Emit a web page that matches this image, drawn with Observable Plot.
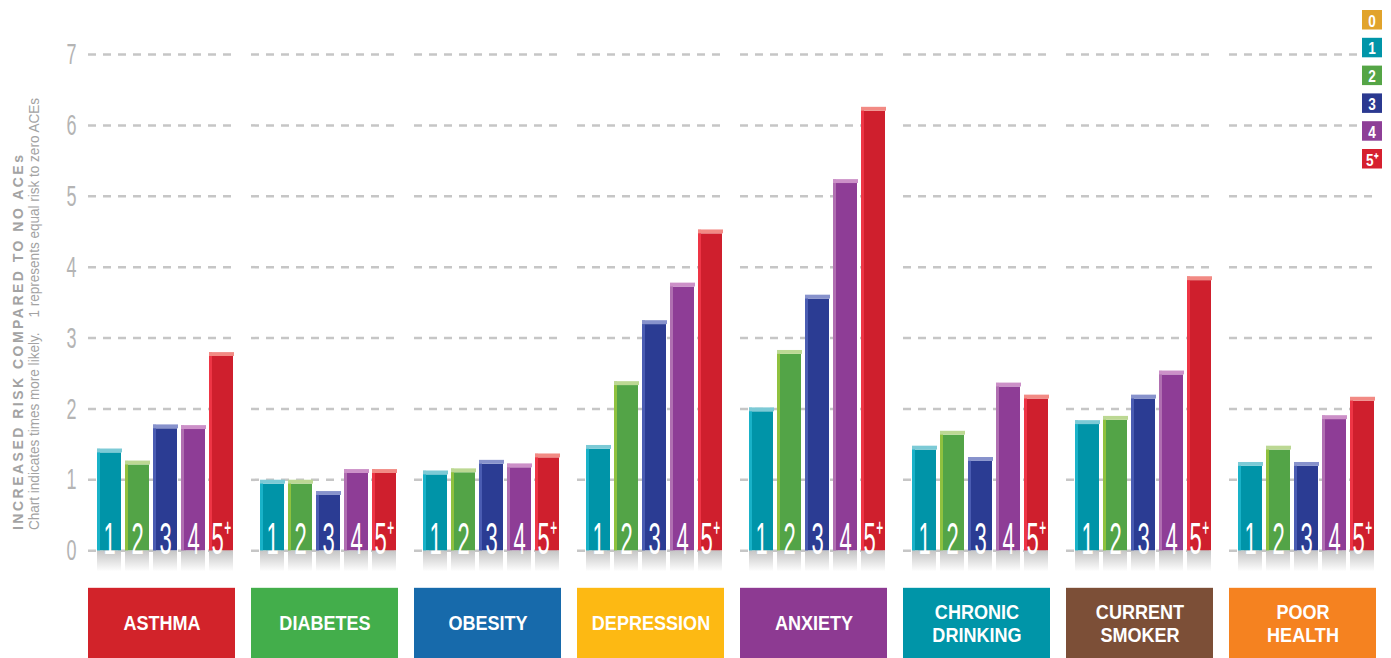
<!DOCTYPE html>
<html>
<head>
<meta charset="utf-8">
<script src="https://cdn.jsdelivr.net/npm/d3@7"></script>
<script src="https://cdn.jsdelivr.net/npm/@observablehq/plot@0.6"></script>
<style>
  html, body { margin: 0; padding: 0; background: #fff; overflow: hidden; }
  #chart svg { display: block; }
</style>
</head>
<body>
<div id="chart"></div>
<script>
// ---- data ----
const categories = ["ASTHMA", "DIABETES", "OBESITY", "DEPRESSION", "ANXIETY", "CHRONIC DRINKING", "CURRENT SMOKER", "POOR HEALTH"];
const categoryLabels = ["ASTHMA", "DIABETES", "OBESITY", "DEPRESSION", "ANXIETY", "CHRONIC\nDRINKING", "CURRENT\nSMOKER", "POOR\nHEALTH"];
const categoryColors = ["#d2232a", "#43ae4b", "#176aab", "#fdb913", "#8d3a92", "#0095a8", "#7c4f37", "#f58220"];

const aceGroups = ["1", "2", "3", "4", "5+"];
const aceLabels = ["1", "2", "3", "4", "5⁺"];
const ace1 = [1.38, 0.94, 1.07, 1.43, 1.96, 1.42, 1.78, 1.19];
const ace2 = [1.21, 0.94, 1.10, 2.33, 2.77, 1.63, 1.84, 1.42];
const ace3 = [1.72, 0.78, 1.22, 3.19, 3.55, 1.26, 2.14, 1.19];
const ace4 = [1.71, 1.09, 1.17, 3.72, 5.18, 2.31, 2.48, 1.85];
const ace5 = [2.74, 1.09, 1.31, 4.47, 6.20, 2.14, 3.81, 2.11];

const aceColors = ["#0094a8", "#53a447", "#2b3c93", "#8e3d96", "#cf1f2d"];
const aceTopColors = ["#7ccad6", "#bcd893", "#8792cc", "#cc90c8", "#f28a84"];
const aceSideColors = ["#19b2c8", "#8fc13f", "#4a5cb2", "#b06fb1", "#ee3545"];

const legendLabels = ["0", "1", "2", "3", "4", "5⁺"];
const legendColors = ["#e1a32b", "#0095a8", "#55a546", "#2b3990", "#8e3f97", "#d6202f"];

const yTicks = [0, 1, 2, 3, 4, 5, 6, 7];
const yTitle = "INCREASED RISK COMPARED TO NO ACEs";
const ySubtitle = "Chart indicates times more likely.    1 represents equal risk to zero ACEs";

// ---- table ----
const series = [ace1, ace2, ace3, ace4, ace5];
const rows = [];
categories.forEach((c, ci) => {
  aceGroups.forEach((a, ai) => {
    rows.push({cat: c, ace: a, value: series[ai][ci], ai});
  });
});
const catRows = categories.map((c, i) => ({cat: c, label: categoryLabels[i], color: categoryColors[i]}));

const sans = "'Liberation Sans', Arial, sans-serif";

const plot = Plot.plot({
  width: 1391,
  height: 658,
  marginLeft: 86,
  marginRight: 13,
  marginTop: 54,
  marginBottom: 0,
  style: {fontFamily: sans, background: "transparent"},
  fx: {domain: categories, paddingInner: 0.1, paddingOuter: 0, axis: null, label: null},
  x: {domain: aceGroups, paddingInner: 0.14, paddingOuter: 0.17, align: 0.8, axis: null, label: null},
  y: {domain: [-1.52, 7], axis: null, label: null},
  color: {type: "identity"},
  marks: [
    Plot.gridY(yTicks, {stroke: "#c6c6c6", strokeOpacity: 1, strokeWidth: 2.5, strokeDasharray: "8,7"}),
    Plot.axisY(yTicks, {tickSize: 0, tickPadding: 12, fontSize: 30, fill: "#b4b4b4", fontFamily: sans, label: null, tickFormat: d => String(d)}),
    // reflection
    Plot.barY(rows, {fx: "cat", x: "ace", y1: 0, y2: -0.3, fill: "url(#refl)"}),
    // front face
    Plot.barY(rows, {fx: "cat", x: "ace", y1: 0, y2: "value", fill: d => aceColors[d.ai]}),
    // left side highlight
    Plot.barY(rows, {fx: "cat", x: "ace", y1: 0, y2: d => d.value + 0.05, fill: d => aceSideColors[d.ai], insetRight: 21}),
    // top face
    Plot.barY(rows, {fx: "cat", x: "ace", y1: "value", y2: d => d.value + 0.055, fill: d => aceTopColors[d.ai], insetRight: -1}),
    // number labels
    Plot.text(rows, {fx: "cat", x: "ace", y: 0, text: d => aceLabels[d.ai], fill: "white", fontSize: 44, lineAnchor: "bottom", dy: 3, fontFamily: sans}),
    // category boxes
    Plot.barY(catRows, {fx: "cat", y1: -0.53, y2: -1.52, fill: "color"}),
    Plot.text(catRows, {fx: "cat", y: -1.02, text: "label", fill: "white", fontSize: 21, fontWeight: "bold", lineHeight: 1.08, fontFamily: sans})
  ]
});

document.getElementById("chart").appendChild(plot);
const svg = d3.select(plot);

// condense glyphs (narrow typeface look)
svg.selectAll("text").each(function() {
  const fs = parseFloat(window.getComputedStyle(this).fontSize);
  let sx = null;
  if (fs === 44) sx = 0.5;
  else if (fs === 21) sx = 0.86;
  else if (fs === 30) sx = 0.6;
  if (sx !== null) {
    const t = d3.select(this);
    const tr = t.attr("transform") || "";
    t.attr("transform", tr + ` scale(${sx},1)`);
  }
});

const defs = svg.append("defs");
const grad = defs.append("linearGradient").attr("id", "refl").attr("x1", 0).attr("y1", 0).attr("x2", 0).attr("y2", 1);
grad.append("stop").attr("offset", "0%").attr("stop-color", "#c4c4c4");
grad.append("stop").attr("offset", "100%").attr("stop-color", "#ffffff");

// axis titles (rotated)
svg.append("text")
  .attr("transform", "translate(23,530) rotate(-90)")
  .attr("text-anchor", "start")
  .attr("fill", "#a3a3a3")
  .attr("font-family", sans)
  .attr("font-weight", "bold")
  .attr("font-size", 14)
  .attr("textLength", 375)
  .attr("lengthAdjust", "spacing")
  .text(yTitle);
svg.append("text")
  .attr("transform", "translate(39,530) rotate(-90)")
  .attr("text-anchor", "start")
  .attr("fill", "#a3a3a3")
  .attr("font-family", sans)
  .attr("font-size", 14)
  .attr("textLength", 432)
  .attr("lengthAdjust", "spacingAndGlyphs")
  .style("white-space", "pre")
  .text(ySubtitle);

// legend
const lg = svg.append("g").attr("transform", "translate(1362,10)");
legendLabels.forEach((t, i) => {
  const g = lg.append("g").attr("transform", `translate(0,${i * 27.8})`);
  g.append("rect").attr("width", 20).attr("height", 19.5).attr("fill", legendColors[i]);
  g.append("text").attr("transform", "translate(10,16.5) scale(0.8,1)").attr("text-anchor", "middle")
    .attr("fill", "white").attr("font-family", sans).attr("font-weight", "bold").attr("font-size", 17).text(t);
});
</script>
</body>
</html>
